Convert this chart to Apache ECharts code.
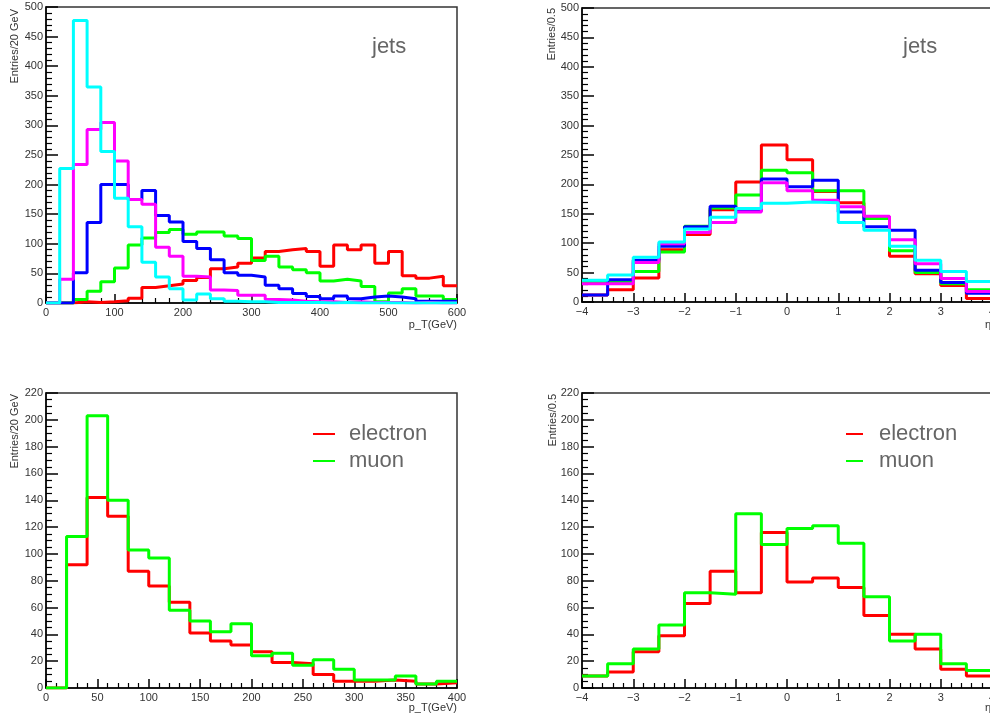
<!DOCTYPE html>
<html>
<head>
<meta charset="utf-8">
<title>jets / leptons</title>
<script src="https://cdn.jsdelivr.net/npm/echarts@6/dist/echarts.min.js"></script>
<style>
  html, body { margin: 0; padding: 0; background: #fff; overflow: hidden; }
  #chart { width: 990px; height: 721px; }
</style>
</head>
<body>
<div id="chart"></div>
<script>
// bin layout of the four histograms
const ptBins = { start: 0, width: 20 };
const etaBins = { start: -4, width: 0.5 };

// jets p_T, 20 GeV bins from 0 to 600
const jetPtRed = [0, 0, 2, 1, 2, 4, 8, 26, 29, 32, 38, 43, 58, 61, 67, 76, 87, 90, 92, 87, 62, 98, 90, 98, 67, 87, 46, 42, 45, 29];
const jetPtGreen = [0, 0, 6, 20, 36, 59, 98, 110, 119, 124, 116, 120, 120, 113, 109, 72, 79, 61, 56, 51, 37, 40, 37, 28, 2, 17, 24, 12, 12, 6];
const jetPtBlue = [0, 0, 51, 136, 200, 200, 175, 190, 148, 137, 104, 92, 73, 51, 47, 44, 30, 24, 16, 11, 7, 12, 7, 10, 12, 10, 7, 3, 3, 3];
const jetPtMagenta = [0, 40, 234, 293, 305, 240, 175, 167, 94, 79, 45, 44, 22, 21, 13, 13, 6, 5, 3, 2, 2, 1, 2, 1, 1, 1, 0, 1, 0, 0];
const jetPtCyan = [0, 227, 477, 365, 256, 177, 129, 69, 44, 24, 5, 15, 7, 3, 2, 2, 1, 1, 1, 1, 0, 1, 0, 0, 0, 0, 0, 0, 0, 0];

// jets eta, 0.5 bins from -4 to 4
const jetEtaRed = [12, 21, 41, 89, 115, 157, 204, 267, 242, 188, 169, 145, 78, 48, 28, 6];
const jetEtaGreen = [33, 34, 52, 85, 129, 160, 182, 224, 220, 189, 189, 142, 87, 50, 31, 21];
const jetEtaBlue = [12, 38, 71, 95, 128, 163, 155, 209, 196, 207, 153, 128, 122, 54, 33, 15];
const jetEtaMagenta = [31, 31, 67, 99, 118, 135, 153, 203, 189, 173, 162, 146, 106, 65, 40, 18];
const jetEtaCyan = [37, 46, 76, 102, 124, 144, 159, 168, 170, 169, 135, 122, 95, 71, 52, 35];

// leptons p_T, 20 GeV bins from 0 to 400
const electronPt = [0, 92, 142, 128, 87, 76, 64, 41, 35, 32, 27, 19, 18, 10, 5, 5, 6, 5, 3, 4];
const muonPt = [0, 113, 203, 140, 103, 97, 58, 50, 42, 48, 24, 26, 17, 21, 14, 6, 6, 9, 3, 5];

// leptons eta, 0.5 bins from -4 to 4
const electronEta = [9, 12, 27, 39, 63, 87, 71, 116, 79, 82, 75, 54, 40, 29, 14, 9];
const muonEta = [9, 18, 29, 47, 71, 70, 130, 107, 119, 121, 108, 68, 35, 40, 18, 13];

const FONT = '"Liberation Sans", Arial, sans-serif';

// lower bin edges plus the closing edge, drawn as a step line
const histPoints = (bins, values) => {
  const pts = values.map((v, i) => [bins.start + i * bins.width, v]);
  pts.push([bins.start + values.length * bins.width, values[values.length - 1]]);
  return pts;
};

const minus = (v) => String(v).replace('-', '\u2212');

const makeX = (gridIndex, min, max, interval) => ({
  type: 'value',
  gridIndex,
  min,
  max,
  interval,
  axisLine: { show: true, onZero: false, lineStyle: { color: '#000', width: 1.5 } },
  axisTick: { show: true, inside: true, length: 9, lineStyle: { color: '#000', width: 1.5 } },
  minorTick: { show: true, splitNumber: 5, length: 5, lineStyle: { color: '#000', width: 1.2 } },
  splitLine: { show: false },
  axisLabel: { fontFamily: FONT, fontSize: 11, color: '#333', margin: 4, formatter: minus }
});

const makeY = (gridIndex, max, interval, minorSplit) => ({
  type: 'value',
  gridIndex,
  min: 0,
  max,
  interval,
  axisLine: { show: true, onZero: false, lineStyle: { color: '#000', width: 1.5 } },
  axisTick: { show: true, inside: true, length: 12, lineStyle: { color: '#000', width: 1.5 } },
  minorTick: { show: true, splitNumber: minorSplit, length: 6, lineStyle: { color: '#000', width: 1.2 } },
  splitLine: { show: false },
  axisLabel: { fontFamily: FONT, fontSize: 11, color: '#333', margin: 3 }
});

const hist = (name, color, axis, bins, values) => ({
  name,
  type: 'line',
  step: 'end',
  symbol: 'none',
  xAxisIndex: axis,
  yAxisIndex: axis,
  data: histPoints(bins, values),
  lineStyle: { color, width: 3 },
  itemStyle: { color },
  silent: true
});

const gridBox = (left, top, width, height) => ({
  left, top, width, height,
  outerBoundsMode: 'none',
  containLabel: false,
  show: true,
  borderColor: '#333',
  borderWidth: 1.5,
  backgroundColor: '#fff'
});

const text = (x, y, str, extra) => ({
  type: 'text',
  x,
  y,
  silent: true,
  style: Object.assign({ text: str, fontFamily: FONT, fontSize: 11, fill: '#333', textVerticalAlign: 'middle' }, extra)
});

const yTitle = (x, y, str) => Object.assign(text(x, y, str, { textAlign: 'right' }), { rotation: Math.PI / 2 });

const legendFor = (left, itemWidth, pad) => ({
  left,
  top: 423,
  orient: 'vertical',
  padding: 0,
  itemGap: 5,
  itemWidth,
  itemHeight: 2,
  icon: 'rect',
  selectedMode: false,
  data: ['electron', 'muon'],
  textStyle: { fontFamily: FONT, fontSize: 22, lineHeight: 22, color: '#666', padding: [0, 0, 0, pad] }
});

const chart = echarts.init(document.getElementById('chart'), null, { renderer: 'canvas' });

chart.setOption({
  animation: false,
  backgroundColor: '#fff',
  grid: [
    gridBox(46, 7, 411, 296),
    gridBox(582, 8, 410, 294),
    gridBox(46, 393, 411, 295),
    gridBox(582, 393, 410, 295)
  ],
  xAxis: [
    makeX(0, 0, 600, 100),
    makeX(1, -4, 4, 1),
    makeX(2, 0, 400, 50),
    makeX(3, -4, 4, 1)
  ],
  yAxis: [
    makeY(0, 500, 50, 5),
    makeY(1, 500, 50, 5),
    makeY(2, 220, 20, 4),
    makeY(3, 220, 20, 4)
  ],
  legend: [legendFor(313, 22, 9), legendFor(846, 17, 11)],
  series: [
    hist('jet red', '#ff0000', 0, ptBins, jetPtRed),
    hist('jet green', '#00ff00', 0, ptBins, jetPtGreen),
    hist('jet blue', '#0000ff', 0, ptBins, jetPtBlue),
    hist('jet magenta', '#ff00ff', 0, ptBins, jetPtMagenta),
    hist('jet cyan', '#00ffff', 0, ptBins, jetPtCyan),
    hist('jet red', '#ff0000', 1, etaBins, jetEtaRed),
    hist('jet green', '#00ff00', 1, etaBins, jetEtaGreen),
    hist('jet blue', '#0000ff', 1, etaBins, jetEtaBlue),
    hist('jet magenta', '#ff00ff', 1, etaBins, jetEtaMagenta),
    hist('jet cyan', '#00ffff', 1, etaBins, jetEtaCyan),
    hist('electron', '#ff0000', 2, ptBins, electronPt),
    hist('muon', '#00ff00', 2, ptBins, muonPt),
    hist('electron', '#ff0000', 3, etaBins, electronEta),
    hist('muon', '#00ff00', 3, etaBins, muonEta)
  ],
  graphic: [
    yTitle(15, 9, 'Entries/20 GeV'),
    yTitle(552, 8, 'Entries/0.5'),
    yTitle(15, 394, 'Entries/20 GeV'),
    yTitle(553, 394, 'Entries/0.5'),
    text(457, 325, 'p_T(GeV)', { textAlign: 'right' }),
    text(457, 708, 'p_T(GeV)', { textAlign: 'right' }),
    text(985, 325, '\u03b7', { textAlign: 'left' }),
    text(985, 708, '\u03b7', { textAlign: 'left' }),
    text(372, 47, 'jets', { fontSize: 22, fill: '#666' }),
    text(903, 47, 'jets', { fontSize: 22, fill: '#666' })
  ]
});

window.addEventListener('resize', chart.resize);
</script>
</body>
</html>
